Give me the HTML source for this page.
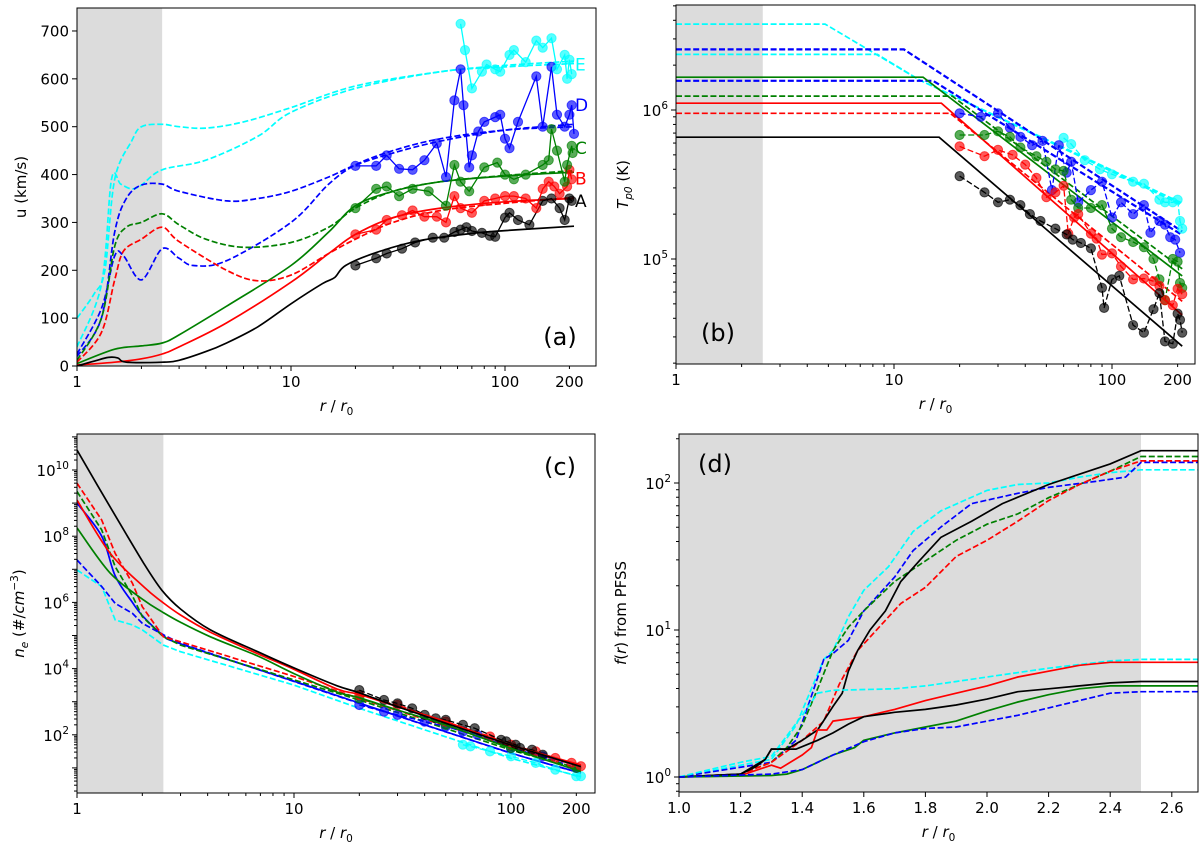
<!DOCTYPE html>
<html><head><meta charset="utf-8"><style>
html,body{margin:0;padding:0;background:#fff;}
svg{display:block;font-family:"DejaVu Sans","Liberation Sans",sans-serif;}
</style></head>
<body>
<svg id="chart" width="1200" height="844" viewBox="0 0 1200 844" xmlns="http://www.w3.org/2000/svg"></svg>
<script>
// ---------- DATA: panel (a) speed u (km/s) ----------
const aR_A=[1,1.2,1.4,1.55,1.7,2.5,3,4,5,7,10,14,16,18,25,40,70,100,210];
const aU_A=[0,10,18,17,8,8,12,30,48,82,130,172,185,210,237,262,277,283,292];
const aR_Bs=[1,1.5,2,2.5,3,5,10,15,20,30,50,100,210];
const aU_Bs=[2,8,15,25,40,90,175,235,275,310,330,343,350];
const aR_Bd=[1,1.3,1.5,1.65,2,2.5,3,5,7,10,15,20,30,50,100,210];
const aU_Bd=[8,70,180,240,265,290,260,200,178,190,235,265,300,325,340,352];
const aR_Cs=[1,1.5,2,2.5,3,5,10,15,20,30,50,100,210];
const aU_Cs=[5,35,42,48,65,125,210,280,335,365,385,397,405];
const aR_Cd=[1,1.3,1.5,1.7,2,2.5,3,4,6,10,15,20,30,50,100,210];
const aU_Cd=[12,100,250,290,300,318,295,265,248,258,290,330,365,385,398,408];
const aR_D1=[1,1.3,1.5,1.7,2,2.5,3,5,7,10,15,20,30,50,100,210];
const aU_D1=[20,100,280,350,378,380,365,345,350,365,395,420,445,470,493,505];
const aR_D2=[1,1.3,1.5,1.65,2,2.5,3,3.5,5,10,15,20,30,50,100,210];
const aU_D2=[25,120,230,230,180,245,225,210,220,300,380,420,450,475,493,500];
const aR_E1=[1,1.2,1.35,1.5,1.8,2,2.5,3,4,6,10,20,50,100,210];
const aU_E1=[100,150,200,390,470,500,505,500,497,510,540,585,615,628,637];
const aR_E2=[1,1.3,1.45,1.6,1.8,2,2.5,4,7,10,20,50,100,210];
const aU_E2=[40,170,390,380,370,378,410,430,480,530,580,615,625,632];
// observed (dots)
const aObsR_A=[20,25,28,33,38,46,52,58,62,66,70,78,85,90,100,105,115,130,150,165,180,190,200,205];
const aObsU_A=[210,225,235,245,258,268,268,280,285,290,282,278,272,270,310,320,305,295,345,350,330,305,350,345];
const aObsR_B=[20,25,28,33,37,42,48,53,58,62,70,80,90,100,110,125,140,150,160,170,180,195,200,205];
const aObsU_B=[275,285,305,315,325,312,312,300,355,330,320,345,350,355,355,350,330,370,385,375,360,375,410,390];
const aObsR_C=[20,25,28,32,37,44,53,58,62,68,80,92,100,110,125,150,160,165,175,190,195,205,207];
const aObsU_C=[330,370,375,355,370,365,335,420,385,365,415,425,400,390,400,420,430,495,450,385,420,460,445];
const aObsR_D=[20,25,28,32,37,42,48,53,58,62,64,68,70,75,80,90,95,100,105,115,140,150,165,175,190,200,205,210];
const aObsU_D=[418,418,440,412,410,430,465,395,555,620,545,415,440,490,510,520,525,475,455,510,605,500,625,525,500,525,545,485];
const aObsR_E=[62,65,70,78,82,90,95,105,110,125,140,150,165,175,190,195,200,205];
const aObsU_E=[715,660,580,615,630,620,615,650,660,635,680,665,685,620,650,600,640,610];
const aYTicks=[0,100,200,300,400,500,600,700];
const aCurveLabels=["A","B","C","D","E"];
const aCurveLabelU=[345,392,455,545,630];

// ---------- DATA: panel (b) proton temperature (K) ----------
const bR_As=[1,16.1,210];  const bT_As=[6.57e5,6.57e5,2.6e4];
const bR_Bs=[1,16.5,210];  const bT_Bs=[1.11e6,1.11e6,4.2e4];
const bR_Bd=[1,18.1,210];  const bT_Bd=[9.5e5,9.5e5,5.2e4];
const bR_Cs=[1,13.6,210];  const bT_Cs=[1.66e6,1.66e6,7.7e4];
const bR_Cd=[1,18.5,210];  const bT_Cd=[1.24e6,1.24e6,8.6e4];
const bR_D1=[1,11.1,210];  const bT_D1=[2.55e6,2.55e6,1.53e5];
const bR_D2=[1,15.1,210];  const bT_D2=[1.57e6,1.57e6,1.45e5];
const bR_E1=[1,4.83,13,210]; const bT_E1=[3.77e6,3.77e6,1.6e6,2.37e5];
const bR_E2=[1,8.4,13,210];  const bT_E2=[2.36e6,2.36e6,1.6e6,2.3e5];
const bObsR_A=[20,26,30,34,38,42,47,55,62,66,72,80,90,92,100,108,125,140,155,165,175,190,200,205,210];
const bObsT_A=[3.6e5,2.8e5,2.4e5,2.5e5,2.3e5,2.0e5,1.8e5,1.6e5,1.46e5,1.35e5,1.28e5,1.18e5,6.4e4,4.7e4,7.3e4,7.7e4,3.6e4,3.2e4,4.6e4,5.9e4,2.8e4,2.7e4,4.3e4,3.9e4,3.2e4];
const bObsR_B=[20,26,30,35,40,45,50,55,60,63,67,70,80,85,90,100,110,125,140,155,165,175,190,200,210];
const bObsT_B=[5.7e5,4.9e5,5.4e5,5.0e5,4.3e5,3.5e5,2.6e5,2.8e5,3.1e5,1.48e5,1.9e5,2.0e5,1.48e5,1.37e5,1.07e5,1.09e5,8.9e4,7.3e4,7.4e4,7.1e4,6.6e4,5.3e4,4.9e4,6.3e4,5.8e4];
const bObsR_C=[20,26,30,34,38,45,50,55,60,65,70,80,90,100,110,125,140,155,165,175,190,200,205,210];
const bObsT_C=[6.8e5,6.8e5,7.2e5,6.6e5,5.6e5,4.9e5,4.5e5,4.0e5,3.9e5,2.5e5,2.2e5,2.2e5,2.3e5,1.6e5,1.4e5,1.3e5,1.2e5,1.0e5,7.3e4,5.3e4,1.0e5,9.6e4,6.9e4,6.4e4];
const bObsR_D=[20,25,30,34,38,43,48,53,57,62,65,70,80,90,100,110,125,140,150,165,175,185,195,205];
const bObsT_D=[9.5e5,9.0e5,9.5e5,7.6e5,6.6e5,5.8e5,6.2e5,2.9e5,5.8e5,3.8e5,4.5e5,2.4e5,2.9e5,3.3e5,1.9e5,2.4e5,2.0e5,2.3e5,1.5e5,1.8e5,1.7e5,1.4e5,1.35e5,1.1e5];
const bObsR_E=[60,65,75,88,100,125,140,165,175,190,200,205,210];
const bObsT_E=[6.5e5,5.9e5,4.6e5,4.0e5,3.7e5,3.3e5,3.2e5,2.5e5,2.4e5,2.4e5,2.5e5,1.8e5,1.6e5];
const bYTickExp=[5,6];

// ---------- DATA: panel (c) density, log10(n_e) ----------
const cR=[1,1.42,2.03,2.46,3,4.12,6.8,10,15.8,20,30,50,100,210];
const cLog_As=[10.6,8.89,7.18,6.37,5.8,5.17,4.51,4.02,3.48,3.27,2.85,2.35,1.69,1.04];
const cLog_Bs=[9.09,7.49,6.47,6.02,5.62,5.1,4.45,3.98,3.38,3.22,2.85,2.4,1.69,1.09];
const cLog_Cs=[8.25,6.89,6.07,5.72,5.4,4.96,4.38,3.85,3.29,3.12,2.75,2.3,1.59,0.89];
const cR_d=[1,1.3,1.5,1.8,2,2.5,3,10,20,100,210];
const cLog_Bd=[9.6,8.49,7.48,6.58,5.87,4.96,4.81,3.76,3.1,1.64,1.04];
const cLog_Cd=[9.35,8.19,7.08,6.2,5.57,4.96,4.71,3.66,3.05,1.54,0.94];
const cLog_Dd=[7.28,6.48,5.97,5.67,5.37,5.02,4.76,3.61,2.95,1.44,0.84];
const cLog_Ds=[9.0,8.0,6.8,6.0,5.6,5.0,4.75,3.62,2.96,1.45,0.85];
const cLog_Ed=[6.98,6.48,5.47,5.32,5.17,4.71,4.51,3.5,2.8,1.29,0.73];
const cObsR_A=[20,26,30,35,40,45,50,60,68,90,95,105,110,125,140];
const cObsL_A=[3.35,3.05,2.95,2.8,2.6,2.5,2.45,2.3,2.2,1.85,1.8,1.7,1.6,1.55,1.4];
const cObsR_B=[20,30,50,80,100,130,160,190,210];
const cObsL_B=[3.2,2.9,2.4,1.95,1.7,1.5,1.3,1.15,1.05];
const cObsR_C=[20,50,100,200];
const cObsL_C=[3.1,2.3,1.6,1.0];
const cObsR_D=[20,26,30,40,50,60,70,100,140,200];
const cObsL_D=[2.9,2.7,2.6,2.4,2.25,2.1,2.0,1.6,1.35,1.0];
const cObsR_E=[60,65,80,100,130,160,200,210];
const cObsL_E=[1.7,1.65,1.5,1.35,1.15,0.95,0.75,0.75];
const cYTickExp=[2,4,6,8,10];

// ---------- DATA: panel (d) expansion factor, log10 f ----------
const dR_A1=[1,1.2,1.25,1.28,1.3,1.35,1.4,1.45,1.5,1.53,1.55,1.58,1.62,1.67,1.72,1.78,1.85,1.95,2.05,2.2,2.3,2.4,2.5,2.7];
const dL_A1=[0,0.02,0.07,0.12,0.19,0.19,0.25,0.32,0.48,0.57,0.72,0.86,1.0,1.13,1.33,1.47,1.63,1.74,1.86,1.99,2.06,2.13,2.22,2.22];
const dR_A2=[1,1.2,1.28,1.3,1.38,1.45,1.5,1.55,1.6,1.7,1.8,1.9,2.0,2.1,2.2,2.3,2.4,2.5,2.7];
const dL_A2=[0,0.02,0.12,0.19,0.19,0.25,0.3,0.36,0.41,0.44,0.46,0.49,0.53,0.58,0.6,0.62,0.64,0.65,0.65];
const dR_Bd=[1,1.2,1.3,1.4,1.47,1.52,1.58,1.65,1.72,1.8,1.9,2.0,2.1,2.2,2.3,2.4,2.5,2.7];
const dL_Bd=[0,0.02,0.1,0.25,0.38,0.63,0.86,1.02,1.18,1.29,1.5,1.61,1.74,1.88,1.99,2.08,2.15,2.15];
const dR_Cd=[1,1.2,1.3,1.35,1.4,1.45,1.5,1.55,1.6,1.7,1.8,1.9,2.0,2.1,2.2,2.3,2.4,2.5,2.7];
const dL_Cd=[0,0.02,0.1,0.2,0.35,0.6,0.86,1.02,1.13,1.33,1.47,1.61,1.72,1.79,1.9,1.99,2.08,2.18,2.18];
const dR_Dd=[1,1.3,1.38,1.43,1.47,1.5,1.55,1.6,1.7,1.76,1.85,1.95,2.1,2.2,2.35,2.45,2.5,2.7];
const dL_Dd=[0,0.1,0.25,0.55,0.8,0.84,0.93,1.13,1.36,1.54,1.7,1.86,1.93,1.97,2.01,2.04,2.14,2.14];
const dR_Ed=[1,1.3,1.38,1.43,1.47,1.5,1.55,1.6,1.68,1.76,1.85,2.0,2.1,2.2,2.3,2.4,2.5,2.7];
const dL_Ed=[0,0.12,0.35,0.6,0.8,0.86,1.09,1.27,1.43,1.67,1.81,1.95,1.99,2.0,2.04,2.07,2.09,2.09];
const dR_Bs=[1,1.2,1.3,1.33,1.4,1.43,1.45,1.48,1.5,1.6,1.7,1.8,1.9,2.0,2.1,2.2,2.3,2.4,2.5,2.7];
const dL_Bs=[0,0.01,0.08,0.06,0.15,0.2,0.32,0.32,0.38,0.41,0.46,0.52,0.57,0.62,0.68,0.72,0.76,0.78,0.78,0.78];
const dR_Cs=[1,1.3,1.35,1.4,1.45,1.5,1.57,1.6,1.7,1.8,1.9,2.0,2.1,2.2,2.3,2.4,2.5,2.7];
const dL_Cs=[0,0.01,0.02,0.05,0.1,0.15,0.2,0.25,0.3,0.34,0.38,0.45,0.51,0.56,0.6,0.62,0.62,0.62];
const dR_D2=[1,1.3,1.4,1.45,1.5,1.6,1.7,1.8,1.9,2.0,2.1,2.2,2.3,2.4,2.5,2.7];
const dL_D2=[0,0.02,0.05,0.1,0.15,0.24,0.3,0.33,0.34,0.38,0.42,0.47,0.52,0.57,0.58,0.58];
const dR_E2=[1,1.1,1.2,1.3,1.4,1.45,1.5,1.7,1.8,1.9,2.0,2.2,2.4,2.5,2.7];
const dL_E2=[0,0.05,0.1,0.14,0.42,0.57,0.59,0.6,0.62,0.65,0.68,0.74,0.79,0.8,0.8];
const dXTicks=[1.0,1.2,1.4,1.6,1.8,2.0,2.2,2.4,2.6];
const dYTickExp=[0,1,2];

const xLogTicks=[1,10,100,200];
const COL={k:'#000000',r:'#ff0000',g:'#008000',b:'#0000ff',c:'#00ffff'};

// ---------- helpers ----------
const NS='http://www.w3.org/2000/svg';
const svg=document.getElementById('chart');
function mk(tag,parent){const e=document.createElementNS(NS,tag);(parent||svg).appendChild(e);return e;}
const L10=Math.log10;

const PA={l:77,r:596,t:8,b:366,x:v=>77+214*L10(v),y:v=>366-v*0.4786,id:'a'};
const PB={l:676,r:1195,t:5,b:364,x:v=>676+218*L10(v),y:v=>110-149*(L10(v)-6),id:'b'};
const PC={l:77,r:595,t:434,b:793,x:v=>77+217*L10(v),y:v=>470-33.1*(v-10),id:'c'};
const PD={l:679,r:1198,t:434,b:792,x:v=>679+308*(v-1),y:v=>777-147*v,id:'d'};

const defs=mk('defs');
function setupPanel(P,grayEnd){
  const cp=mk('clipPath',defs);cp.setAttribute('id','clip-'+P.id);
  const cr=mk('rect',cp);cr.setAttribute('x',P.l);cr.setAttribute('y',P.t);cr.setAttribute('width',P.r-P.l);cr.setAttribute('height',P.b-P.t);
  const g=mk('g');
  
  
  const band=mk('rect',g);
  
  
  band.setAttribute('x',P.l);band.setAttribute('y',P.t);band.setAttribute('width',P.x(grayEnd)-P.l);band.setAttribute('height',P.b-P.t);band.setAttribute('fill','#dcdcdc');
  const plot=mk('g',g);plot.setAttribute('clip-path','url(#clip-'+P.id+')');
  P.g=g;P.plot=plot;
}
function frame(P){
  const f=mk('rect',P.g);
  
  
  f.setAttribute('x',P.l);f.setAttribute('y',P.t);f.setAttribute('width',P.r-P.l);f.setAttribute('height',P.b-P.t);
  f.setAttribute('fill','none');f.setAttribute('stroke','#000');f.setAttribute('stroke-width','1');
}
function tick(P,x1,y1,x2,y2){const t=mk('line',P.g);t.setAttribute('x1',x1);t.setAttribute('y1',y1);t.setAttribute('x2',x2);t.setAttribute('y2',y2);t.setAttribute('stroke','#000');t.setAttribute('stroke-width','1');}
function txt(P,x,y,s,anchor,size,name){
  const t=mk('text',P.g);
  
  
  t.setAttribute('x',x);t.setAttribute('y',y);t.setAttribute('text-anchor',anchor||'middle');t.setAttribute('font-size',size||15);t.textContent=s;return t;}
function pow10(P,x,y,exp,name){
  const t=mk('text',P.g);
  
  
  t.setAttribute('x',x);t.setAttribute('y',y);t.setAttribute('text-anchor','end');t.setAttribute('font-size',15);
  const a=mk('tspan',t);a.textContent='10';
  const b=mk('tspan',t);b.setAttribute('dy','-7');b.setAttribute('font-size','10.5');b.textContent=String(exp);
}
function logXAxis(P,max){
  for(let d=1;d<=100;d*=10){for(let m=1;m<10;m++){const v=d*m;if(v>max)break;const x=P.x(v);if(x>P.r)break;const major=(m===1);tick(P,x,P.b,x,P.b+(major?5:3));}}
  xLogTicks.forEach(v=>{txt(P,P.x(v),P.b+21,String(v),'middle',15,'x-tick-label');});
  rr0(P);
}
function rr0(P){
  const t=mk('text',P.g);
  
  
  t.setAttribute('x',(P.l+P.r)/2);t.setAttribute('y',P.b+45);t.setAttribute('text-anchor','middle');t.setAttribute('font-size',15);
  const a=mk('tspan',t);a.setAttribute('font-style','italic');a.textContent='r';
  const b=mk('tspan',t);b.textContent=' / ';
  const c=mk('tspan',t);c.setAttribute('font-style','italic');c.textContent='r';
  const d=mk('tspan',t);d.setAttribute('font-size','10.5');d.setAttribute('dy','4');d.textContent='0';
}
function logYAxis(P,expMin,expMax,labelExps,valFn){
  for(let e=expMin;e<=expMax;e++){for(let m=1;m<10;m++){const y=P.y(valFn(e,m));if(y<P.t||y>P.b)continue;tick(P,P.l,y,P.l-(m===1?5:3),y);}}
  labelExps.forEach(e=>{const y=P.y(valFn(e,1));pow10(P,P.l-8,y+6,e,'y-tick-label');});
}
function yTitle(P,x,parts,name){
  const t=mk('text',P.g);
  
  
  const cy=(P.t+P.b)/2;
  t.setAttribute('transform','translate('+x+','+cy+') rotate(-90)');t.setAttribute('text-anchor','middle');t.setAttribute('font-size',15);
  parts.forEach(p=>{const s=mk('tspan',t);if(p.i)s.setAttribute('font-style','italic');if(p.sub){s.setAttribute('font-size','10.5');s.setAttribute('dy','4');}if(p.sup){s.setAttribute('font-size','10.5');s.setAttribute('dy','-6');}if(p.back)s.setAttribute('dy',p.back);s.textContent=p.t;});
}
function pathD(P,xs,ys,smooth){
  const pts=xs.map((v,i)=>[P.x(v),P.y(ys[i])]);
  if(!smooth||pts.length<3)return pts.map((p,i)=>(i?'L':'M')+p[0].toFixed(1)+','+p[1].toFixed(1)).join('');
  let d='M'+pts[0][0].toFixed(1)+','+pts[0][1].toFixed(1);
  for(let i=0;i<pts.length-1;i++){
    const p0=pts[Math.max(0,i-1)],p1=pts[i],p2=pts[i+1],p3=pts[Math.min(pts.length-1,i+2)];
    const c1=[p1[0]+(p2[0]-p0[0])/6,p1[1]+(p2[1]-p0[1])/6];
    const c2=[p2[0]-(p3[0]-p1[0])/6,p2[1]-(p3[1]-p1[1])/6];
    d+='C'+c1[0].toFixed(1)+','+c1[1].toFixed(1)+' '+c2[0].toFixed(1)+','+c2[1].toFixed(1)+' '+p2[0].toFixed(1)+','+p2[1].toFixed(1);
  }
  return d;
}
function series(P,xs,ys,color,dashed,name,w,smooth){
  const p=mk('path',P.plot);
  
  
  p.setAttribute('d',pathD(P,xs,ys,smooth));
  p.setAttribute('fill','none');p.setAttribute('stroke',color);p.setAttribute('stroke-width',w||1.7);
  if(dashed)p.setAttribute('stroke-dasharray','6,2.6');
}
function obs(P,xs,ys,color,dashed,name){
  series(P,xs,ys,color,dashed,name+'-line',1.3);
  xs.forEach((v,i)=>{
    const c=mk('circle',P.plot);
    
    
    c.setAttribute('cx',P.x(v).toFixed(1));c.setAttribute('cy',P.y(ys[i]).toFixed(1));c.setAttribute('r',4.6);c.setAttribute('fill',color);c.setAttribute('fill-opacity',0.65);c.setAttribute('stroke',color);c.setAttribute('stroke-opacity',0.65);
  });
}
function panelLabel(P,x,y,s){txt(P,x,y,s,'middle',24,'panel-label');}

// ---------- Panel (a) ----------
setupPanel(PA,2.5);
series(PA,aR_E1,aU_E1,COL.c,true,'model-e-1',1.7,true);series(PA,aR_E2,aU_E2,COL.c,true,'model-e-2',1.7,true);
series(PA,aR_D1,aU_D1,COL.b,true,'model-d-1',1.7,true);series(PA,aR_D2,aU_D2,COL.b,true,'model-d-2',1.7,true);
series(PA,aR_Cd,aU_Cd,COL.g,true,'model-c-dashed',1.7,true);series(PA,aR_Cs,aU_Cs,COL.g,false,'model-c-solid',1.7,true);
series(PA,aR_Bd,aU_Bd,COL.r,true,'model-b-dashed',1.7,true);series(PA,aR_Bs,aU_Bs,COL.r,false,'model-b-solid',1.7,true);
series(PA,aR_A,aU_A,COL.k,false,'model-a-solid',1.7,true);
obs(PA,aObsR_A,aObsU_A,COL.k,false,'obs-a');obs(PA,aObsR_B,aObsU_B,COL.r,false,'obs-b');
obs(PA,aObsR_C,aObsU_C,COL.g,false,'obs-c');obs(PA,aObsR_D,aObsU_D,COL.b,false,'obs-d');obs(PA,aObsR_E,aObsU_E,COL.c,false,'obs-e');
frame(PA);logXAxis(PA,300);
aYTicks.forEach(v=>{const y=PA.y(v);tick(PA,PA.l,y,PA.l-5,y);txt(PA,PA.l-8,y+5.5,String(v),'end',15,'y-tick-label');});
const aLabCols=[COL.k,COL.r,COL.g,COL.b,COL.c];
aCurveLabels.forEach((s,i)=>{const t=txt(PA,575,PA.y(aCurveLabelU[i])+6,s,'start',17,'curve-label-'+s.toLowerCase());t.setAttribute('fill',aLabCols[i]);});
yTitle(PA,26,[{t:'u (km/s)'}],'y-axis-title');
panelLabel(PA,560,345,'(a)');

// ---------- Panel (b) ----------
setupPanel(PB,2.5);
series(PB,bR_E1,bT_E1,COL.c,true,'model-e-1');series(PB,bR_E2,bT_E2,COL.c,true,'model-e-2');
series(PB,bR_D1,bT_D1,COL.b,true,'model-d-1',2.2);series(PB,bR_D2,bT_D2,COL.b,true,'model-d-2',2.2);
series(PB,bR_Cs,bT_Cs,COL.g,false,'model-c-solid');series(PB,bR_Cd,bT_Cd,COL.g,true,'model-c-dashed');
series(PB,bR_Bs,bT_Bs,COL.r,false,'model-b-solid');series(PB,bR_Bd,bT_Bd,COL.r,true,'model-b-dashed');
series(PB,bR_As,bT_As,COL.k,false,'model-a-solid');
obs(PB,bObsR_E,bObsT_E,COL.c,true,'obs-e');obs(PB,bObsR_D,bObsT_D,COL.b,true,'obs-d');obs(PB,bObsR_C,bObsT_C,COL.g,true,'obs-c');
obs(PB,bObsR_B,bObsT_B,COL.r,true,'obs-b');obs(PB,bObsR_A,bObsT_A,COL.k,true,'obs-a');
frame(PB);logXAxis(PB,300);
logYAxis(PB,4,6,bYTickExp,(e,m)=>m*Math.pow(10,e));
yTitle(PB,628,[{t:'T',i:true},{t:'p0',sub:true,i:true},{t:' (K)',back:'-4'}],'y-axis-title');
panelLabel(PB,718,341,'(b)');

// ---------- Panel (c) ----------
setupPanel(PC,2.5);
series(PC,cR_d,cLog_Ed,COL.c,true,'model-e-dashed');series(PC,cR_d,cLog_Dd,COL.b,true,'model-d-dashed');series(PC,cR_d,cLog_Ds,COL.b,false,'model-d-solid',1.7,true);
series(PC,cR_d,cLog_Cd,COL.g,true,'model-c-dashed');series(PC,cR_d,cLog_Bd,COL.r,true,'model-b-dashed');
obs(PC,cObsR_E,cObsL_E,COL.c,true,'obs-e');obs(PC,cObsR_D,cObsL_D,COL.b,true,'obs-d');obs(PC,cObsR_C,cObsL_C,COL.g,true,'obs-c');
obs(PC,cObsR_B,cObsL_B,COL.r,true,'obs-b');obs(PC,cObsR_A,cObsL_A,COL.k,true,'obs-a');
series(PC,cR,cLog_Cs,COL.g,false,'model-c-solid',1.7,true);series(PC,cR,cLog_Bs,COL.r,false,'model-b-solid',1.7,true);series(PC,cR,cLog_As,COL.k,false,'model-a-solid',1.7,true);
frame(PC);logXAxis(PC,300);
logYAxis(PC,0,11,cYTickExp,(e,m)=>e+L10(m));
yTitle(PC,24,[{t:'n',i:true},{t:'e',sub:true,i:true},{t:' (#/',back:'-4'},{t:'cm',i:true},{t:'−3',sup:true},{t:')',back:'6'}],'y-axis-title');
panelLabel(PC,560,475,'(c)');

// ---------- Panel (d) ----------
setupPanel(PD,2.5);
series(PD,dR_Ed,dL_Ed,COL.c,true,'model-e-upper');series(PD,dR_Dd,dL_Dd,COL.b,true,'model-d-upper');
series(PD,dR_Cd,dL_Cd,COL.g,true,'model-c-upper');series(PD,dR_Bd,dL_Bd,COL.r,true,'model-b-upper');
series(PD,dR_A1,dL_A1,COL.k,false,'model-a-upper');
series(PD,dR_E2,dL_E2,COL.c,true,'model-e-lower');series(PD,dR_Bs,dL_Bs,COL.r,false,'model-b-lower');
series(PD,dR_A2,dL_A2,COL.k,false,'model-a-lower');series(PD,dR_Cs,dL_Cs,COL.g,false,'model-c-lower');
series(PD,dR_D2,dL_D2,COL.b,true,'model-d-lower');
frame(PD);
dXTicks.forEach(v=>{const x=PD.x(v);tick(PD,x,PD.b,x,PD.b+5);txt(PD,x,PD.b+21,v.toFixed(1),'middle',15,'x-tick-label');});
rr0(PD);
logYAxis(PD,-1,2,dYTickExp,(e,m)=>e+L10(m));
yTitle(PD,626,[{t:'f',i:true},{t:'('},{t:'r',i:true},{t:') from PFSS'}],'y-axis-title');
panelLabel(PD,715,472,'(d)');
</script>
</body></html>
